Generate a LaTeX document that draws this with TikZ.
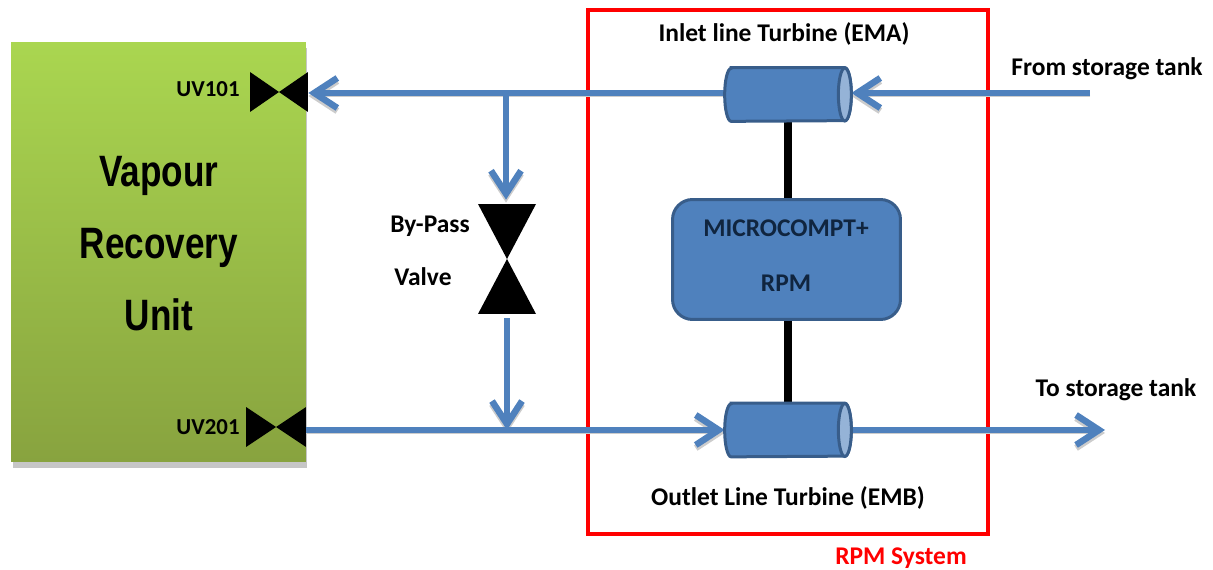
\documentclass[tikz,border=0pt]{standalone}
\usepackage{fontspec}
\setmainfont{Carlito}
\newfontfamily\vrufont[FakeStretch=0.8]{Liberation Sans}
\usetikzlibrary{positioning,arrows.meta,shadows}
\definecolor{pipeblue}{HTML}{4F81BD}
\definecolor{pipeedge}{HTML}{385D8A}
\definecolor{boxtext}{HTML}{10253F}
\definecolor{vrutop}{HTML}{AAD650}
\definecolor{vrubottom}{HTML}{88A33F}
\tikzset{
  pipearr/.style={-{Straight Barb[length=4.6mm,width=6mm,line width=1.3mm]},line width=1.15mm,draw=pipeblue,
                  preaction={draw=black!20,transform canvas={yshift=-0.6mm}}},
  shaft/.style={line width=1.6mm,draw=black},
  turbine/.style={minimum width=2.52cm,minimum height=1.06cm,inner sep=0pt},
  turbody/.style={draw=pipeedge,line width=0.6mm,fill=pipeblue},
  turend/.style={draw=pipeedge,line width=0.6mm,fill=pipeblue!60},
  valve/.style={inner sep=0pt,path picture={
      \fill[black] (path picture bounding box.north west) -- (path picture bounding box.south east)
        -- (path picture bounding box.north east) -- (path picture bounding box.south west) -- cycle;}},
  vvalve/.style={inner sep=0pt,path picture={
      \fill[black] (path picture bounding box.north west) -- (path picture bounding box.north east)
        -- (path picture bounding box.south west) -- (path picture bounding box.south east) -- cycle;}},
  label/.style={font=\fontsize{14.5}{16}\selectfont\bfseries,text=black,inner sep=0pt},
  smalllabel/.style={font=\fontsize{13}{15}\selectfont\bfseries,text=black,inner sep=0pt},
  vrutext/.style={font=\vrufont\fontsize{25}{28}\selectfont\bfseries,text=black,inner sep=0pt,anchor=base}
}
\newcommand{\turbinebody}[1]{
  \draw[turbody] ([xshift=1.3mm]#1.north west) -- ([xshift=-1.3mm]#1.north east)
    arc[start angle=90,end angle=-90,x radius=1.3mm,y radius=5.3mm]
    -- ([xshift=1.3mm]#1.south west)
    arc[start angle=270,end angle=90,x radius=1.3mm,y radius=5.3mm] -- cycle;
  \draw[turend] ([xshift=-1.3mm]#1.east) ellipse[x radius=1.3mm,y radius=5.3mm];
}
\begin{document}
\begin{tikzpicture}[x=0.02cm,y=-0.02cm]
\useasboundingbox (0,0) rectangle (1213,570);

\node[top color=vrutop,bottom color=vrubottom,
      drop shadow={shadow xshift=0.3mm,shadow yshift=-1.2mm,opacity=0.45},
      minimum width=5.9cm,minimum height=8.4cm,inner sep=0pt] (vru) at (158.5,252) {};
\node[vrutext] (vapour) at (159,187) {Vapour};
\node[vrutext] (recovery) at (159,259) {Recovery};
\node[vrutext] (unit) at (159,331) {Unit};

\node[draw=red,line width=0.8mm,minimum width=8cm,minimum height=10.48cm,inner sep=0pt] (rpmbox) at (788,272) {};
\node[label,text=red] (rpmtxt) at (901,558.5) {RPM System};

\node[turbine] (ema) at (788,94.5) {};
\node[turbine] (emb) at (788,430) {};
\node[draw=pipeedge,fill=pipeblue,line width=0.6mm,rounded corners=0.4cm,minimum width=4.56cm,
      minimum height=2.4cm,inner sep=0pt] (micro) at (786.5,259.5) {};
\node[label,text=boxtext] (microa) at (786,228) {MICROCOMPT+};
\node[label,text=boxtext] (microb) at (786,283) {RPM};

\node[valve,minimum width=1.16cm,minimum height=0.8cm] (uvin) at (279,92) {};
\node[valve,minimum width=1.2cm,minimum height=0.8cm] (uvout) at (276,427) {};
\node[vvalve,minimum width=1.16cm,minimum height=2.2cm] (bypass) at (507,259) {};

\node[smalllabel] (uvina) at (208,89) {UV101};
\node[smalllabel] (uvouta) at (208,427) {UV201};
\node[label] (bypa) at (430,226) {By-Pass};
\node[label] (bypb) at (423,277) {Valve};
\node[label] (emal) at (784,34) {Inlet line Turbine (EMA)};
\node[label] (embl) at (788,498) {Outlet Line Turbine (EMB)};
\node[label] (fromtxt) at (1107,69) {From storage tank};
\node[label] (totxt) at (1116,390) {To storage tank};

\coordinate (tankin) at (1090,93);
\coordinate (tankout) at (1105,430);
\coordinate (teea) at (506,93);
\coordinate (teeb) at (507,430);
\coordinate (shaftx) at (788,259);

% pipes
\draw[pipearr] (ema.west |- tankin) -- (uvin.east |- tankin);
\draw[pipearr,shorten >=0.8mm] (teea) -- (bypass.north -| teea);
\draw[pipearr,shorten <=0.8mm] (bypass.south) -- (teeb);
\draw[pipearr] (uvout.east |- emb.west) -- (emb.west);
\draw[pipearr] (emb.east) -- (tankout);
\draw[pipearr] (tankin) -- (tankin -| ema.east);

% shafts
\draw[shaft] (ema.south -| shaftx) -- (micro.north -| shaftx);
\draw[shaft] (micro.south -| shaftx) -- (emb.north -| shaftx);

\turbinebody{ema}
\turbinebody{emb}
\end{tikzpicture}
\end{document}
